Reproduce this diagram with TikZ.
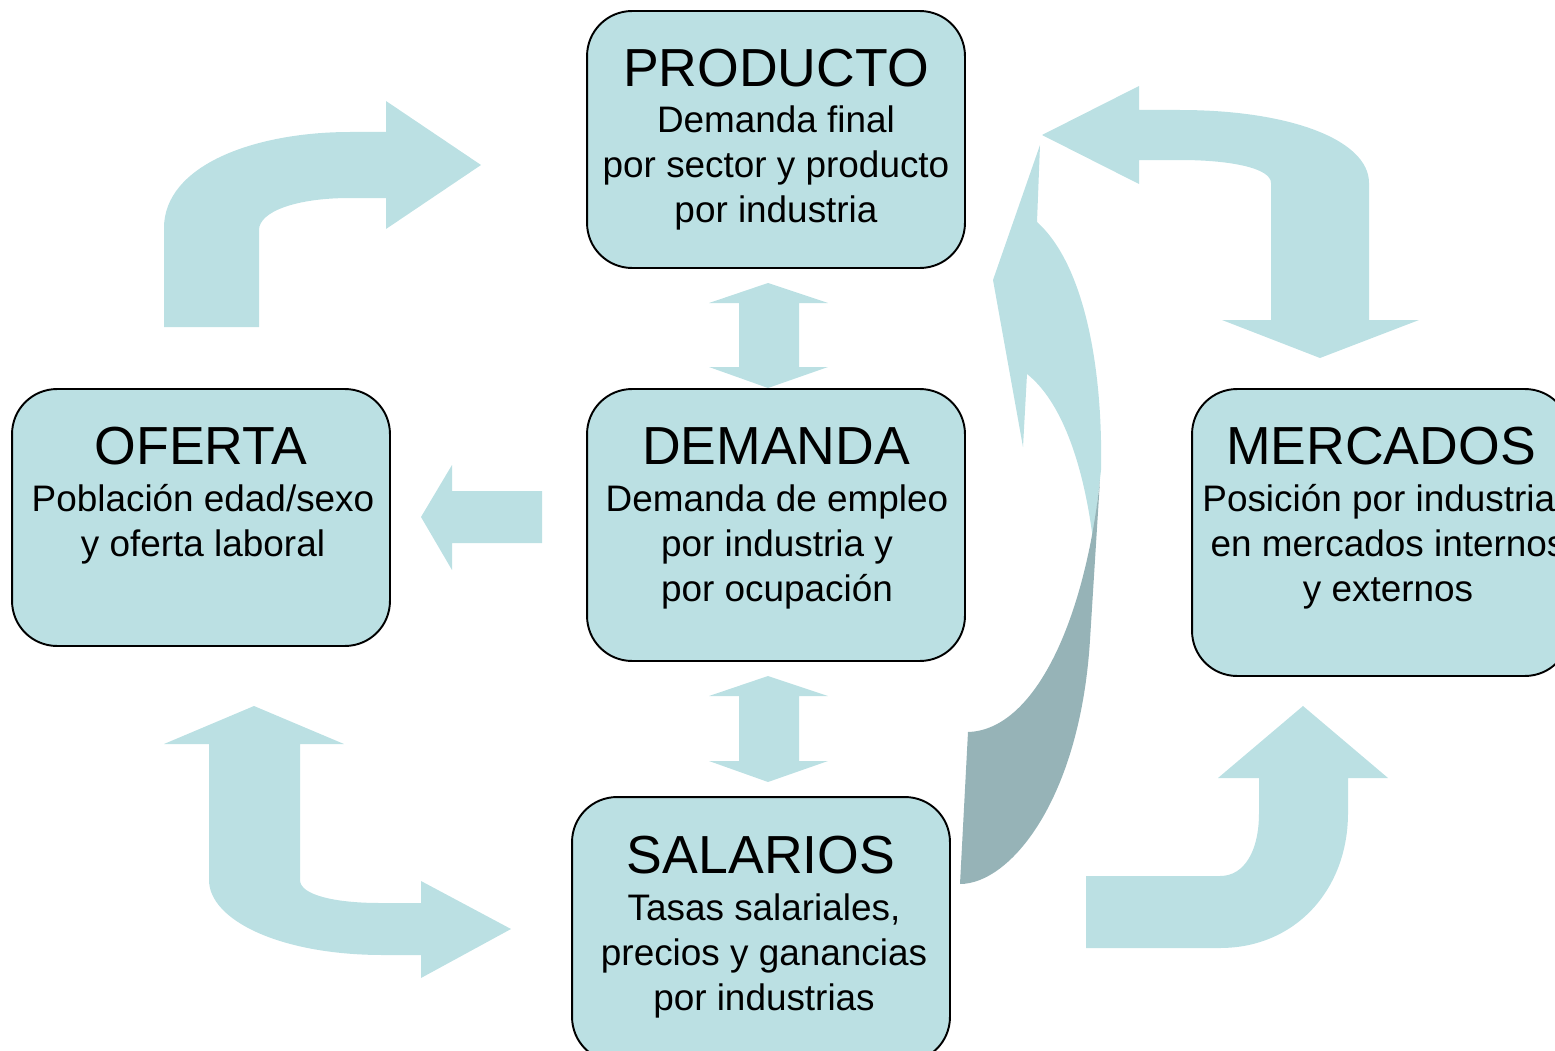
\documentclass[tikz,border=0pt]{standalone}
\usepackage{fontspec}
\setmainfont{Liberation Sans}
\usetikzlibrary{positioning}
\definecolor{color1}{RGB}{187,224,227}
\definecolor{color2}{RGB}{150,179,183}

\begin{document}
\begin{tikzpicture}[x=0.02cm, y=-0.02cm,
    caja/.style={draw=black, line width=1.1pt, fill=color1, rounded corners=0.9cm, minimum width=7.56cm},
    titulo/.style={font=\fontsize{30.5}{36}\selectfont, anchor=base},
    cuerpo/.style={font=\fontsize{21}{25.6}\selectfont, align=center, anchor=base}]
    \useasboundingbox (0,0) rectangle (1555,1051);
    \clip (0,0) rectangle (1555,1051);

    % flechas
    \fill[color1] (164,327) -- (164,228) .. controls (164,165) and (255,132) .. (350,132) -- (386,132) -- (386,101) -- (481,165) -- (386,229) -- (386,198) -- (350,198) .. controls (295,198) and (259,212) .. (259,230) -- (259,327) -- cycle;

    \fill[color1] (1042,135) -- (1139,86) -- (1139,110) -- (1180,110) .. controls (1290,110) and (1369,140) .. (1369,183) -- (1369,320) -- (1419,320) -- (1320,358) -- (1222,320) -- (1271,320) -- (1271,183) .. controls (1271,168) and (1230,160) .. (1180,160) -- (1139,160) -- (1139,184) -- cycle;

    \fill[color1] (421,517) -- (452,465) -- (452,491) -- (542,491) -- (542,543) -- (452,543) -- (452,570) -- cycle;

    \foreach \a/\b in {283/388,676/782}
        \fill[color1] (768,\a) -- (828,\a+20) -- (799,\a+20) -- (799,\b-21) -- (828,\b-21) -- (768,\b) -- (709,\b-21) -- (739,\b-21) -- (739,\a+20) -- (709,\a+20) -- cycle;

    \fill[color1] (254,706) -- (344,744) -- (300,744) -- (300,880) .. controls (300,895) and (335,903) .. (380,903) -- (421,903) -- (421,881) -- (511,929) -- (421,978) -- (421,955) -- (383,955) .. controls (280,955) and (209,920) .. (209,880) -- (209,744) -- (164,744) -- cycle;

    \fill[color1] (1086,876) -- (1220,876) .. controls (1245,876) and (1259,850) .. (1259,813) -- (1259,778) -- (1218,778) -- (1303,706) -- (1388,778) -- (1348,778) -- (1348,813) .. controls (1348,890) and (1295,948) .. (1220,948) -- (1086,948) -- cycle;

    \fill[color1] (1037,222) .. controls (1085,265) and (1103,370) .. (1101,470) -- (1093,540) .. controls (1083,460) and (1060,400) .. (1027,374) -- (1023,447) -- (993,280) -- (1040,145) -- cycle;
    \fill[color2] (968,732) .. controls (1035,730) and (1085,620) .. (1100,480) -- (1090,640) .. controls (1080,800) and (1010,884) .. (960,884) -- cycle;

    % cajas
    \node[caja, minimum height=5.14cm] (producto) at (776,139.5) {};
    \node[caja, minimum height=5.14cm] (oferta) at (201,517.5) {};
    \node[caja, minimum height=5.44cm] (demanda) at (776,525) {};
    \node[caja, minimum height=5.74cm] (mercados) at (1381,532.5) {};
    \node[caja, minimum height=5.3cm] (salarios) at (761,929.5) {};

    \node[titulo] (producto-t) at (776,87) {PRODUCTO};
    \node[cuerpo] (producto-c) at (776,222) {Demanda final\\por sector y producto\\por industria};

    \node[titulo] (oferta-t) at (201,464) {OFERTA};
    \node[cuerpo] (oferta-c) at (203,556) {Población edad/sexo\\y oferta laboral};

    \node[titulo] (demanda-t) at (776,464) {DEMANDA};
    \node[cuerpo] (demanda-c) at (777,601) {Demanda de empleo\\por industria y\\por ocupación};

    \node[titulo] (mercados-t) at (1381,464) {MERCADOS};
    \node[cuerpo] (mercados-c) at (1388,601) {Posición por industrias\\en mercados internos\\y externos};

    \node[titulo] (salarios-t) at (761,873) {SALARIOS};
    \node[cuerpo] (salarios-c) at (764,1010) {Tasas salariales,\\precios y ganancias\\por industrias};
\end{tikzpicture}
\end{document}
